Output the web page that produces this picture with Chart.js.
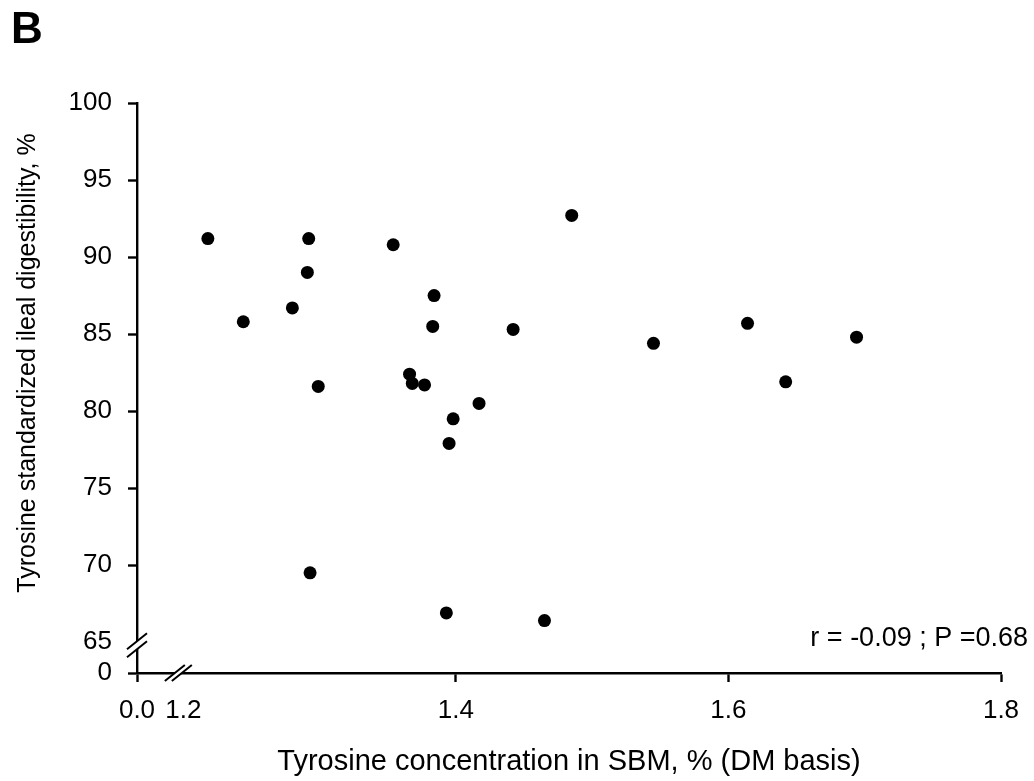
<!DOCTYPE html>
<html>
<head>
<meta charset="utf-8">
<script src="https://cdn.jsdelivr.net/npm/chart.js@4.4.1/dist/chart.umd.min.js"></script>
<style>
  html, body { margin: 0; padding: 0; background: #fff; }
  #wrap { width: 1034px; height: 781px; position: relative; }
</style>
</head>
<body>
<div id="wrap"><canvas id="chart"></canvas></div>
<script>
// tyrosine concentration (% DM) and standardized ileal digestibility (%) per SBM sample
const tyrosineConc = [1.218, 1.244, 1.280, 1.292, 1.291, 1.299, 1.293, 1.354, 1.384, 1.383, 1.366, 1.368,
  1.377, 1.398, 1.395, 1.417, 1.442, 1.393, 1.465, 1.485, 1.545, 1.614, 1.642, 1.694]
const tyrosineSID = [91.2, 85.8, 86.7, 91.2, 89.0, 81.6, 69.5, 90.8, 87.5, 85.5, 82.4, 81.8,
  81.7, 79.5, 77.9, 80.5, 85.3, 66.9, 66.4, 92.7, 84.4, 85.7, 81.9, 84.8]

const xTicks = [1.2, 1.4, 1.6, 1.8]
const yTicks = [65, 70, 75, 80, 85, 90, 95, 100]
// both axes are broken; the origin sits just past the break and is labelled as zero
const xOrigin = 1.166
const yOrigin = 63
const xBreakAt = 1.2
const yBreakAt = 65

const panelLabel = "B"
const statsLabel = "r = -0.09 ; P =0.68"
const xTitle = "Tyrosine concentration in SBM, % (DM basis)"
const yTitle = "Tyrosine standardized ileal digestibility, %"

const FONT = "'Liberation Sans', Arial, sans-serif"

const breakMark = (ctx, cx, cy, ox, oy) => {
  // two parallel slashes with the axis blanked out between them
  const a0 = [cx - 10 - ox, cy + 8 - oy], a1 = [cx + 10 - ox, cy - 8 - oy]
  const b0 = [cx - 10 + ox, cy + 8 + oy], b1 = [cx + 10 + ox, cy - 8 + oy]
  ctx.fillStyle = "#fff"
  ctx.beginPath()
  ctx.moveTo(...a0); ctx.lineTo(...a1); ctx.lineTo(...b1); ctx.lineTo(...b0)
  ctx.closePath()
  ctx.fill()
  ctx.strokeStyle = "#000"
  ctx.lineWidth = 2
  ctx.beginPath()
  ctx.moveTo(...a0); ctx.lineTo(...a1)
  ctx.moveTo(...b0); ctx.lineTo(...b1)
  ctx.stroke()
}

const decorations = {
  id: "decorations",
  afterDraw(chart) {
    const { ctx, chartArea, scales: { x, y } } = chart
    ctx.save()
    breakMark(ctx, chartArea.left, y.getPixelForValue(yBreakAt) + 3, 0, 4)
    breakMark(ctx, x.getPixelForValue(xBreakAt) - 5, chartArea.bottom, 3.5, 0)

    ctx.fillStyle = "#000"
    ctx.font = `bold 44px ${FONT}`
    ctx.textAlign = "left"
    ctx.textBaseline = "alphabetic"
    ctx.fillText(panelLabel, 11, 43)

    ctx.font = `27px ${FONT}`
    ctx.textAlign = "right"
    ctx.fillText(statsLabel, 1028, 646)

    ctx.font = `29px ${FONT}`
    ctx.textAlign = "center"
    ctx.textBaseline = "middle"
    ctx.fillText(xTitle, (chartArea.left + chartArea.right) / 2, 762)

    ctx.font = `25px ${FONT}`
    ctx.translate(28, 363)
    ctx.rotate(-Math.PI / 2)
    ctx.fillText(yTitle, 0, 0)
    ctx.restore()
  }
}

const tickColor = (hidden) => (c) => (c.tick && c.tick.value === hidden ? "rgba(0,0,0,0)" : "#000")

new Chart(document.getElementById("chart"), {
  type: "scatter",
  data: {
    datasets: [{
      data: tyrosineConc.map((v, i) => ({ x: v, y: tyrosineSID[i] })),
      backgroundColor: "#000",
      borderWidth: 0,
      pointRadius: 6.5,
      pointHoverRadius: 6.5
    }]
  },
  options: {
    responsive: true,
    maintainAspectRatio: false,
    animation: false,
    layout: { padding: { top: 103, right: 33, bottom: 0, left: 0 } },
    plugins: { legend: { display: false }, tooltip: { enabled: false } },
    scales: {
      x: {
        type: "linear",
        min: xOrigin,
        max: 1.8,
        afterBuildTicks: (s) => { s.ticks = [xOrigin, ...xTicks].map(v => ({ value: v })) },
        afterFit: (s) => { s.height = 108 },
        border: { color: "#000", width: 2.4 },
        grid: { drawOnChartArea: false, tickLength: 9, tickWidth: 2.4, tickColor: tickColor(xBreakAt) },
        ticks: {
          autoSkip: false,
          maxRotation: 0,
          padding: 13,
          color: "#000",
          font: { family: FONT, size: 26 },
          callback: (v) => (v === xOrigin ? "0.0" : v.toFixed(1))
        }
      },
      y: {
        type: "linear",
        min: yOrigin,
        max: 100,
        afterBuildTicks: (s) => { s.ticks = [yOrigin, ...yTicks].map(v => ({ value: v })) },
        afterFit: (s) => { s.width = 137 },
        border: { color: "#000", width: 2.4 },
        grid: { drawOnChartArea: false, tickLength: 9, tickWidth: 2.4, tickColor: tickColor(yBreakAt) },
        ticks: {
          autoSkip: false,
          padding: 16,
          color: "#000",
          font: { family: FONT, size: 26 },
          callback: (v) => (v === yOrigin ? "0" : v)
        }
      }
    }
  },
  plugins: [decorations]
})
</script>
</body>
</html>
